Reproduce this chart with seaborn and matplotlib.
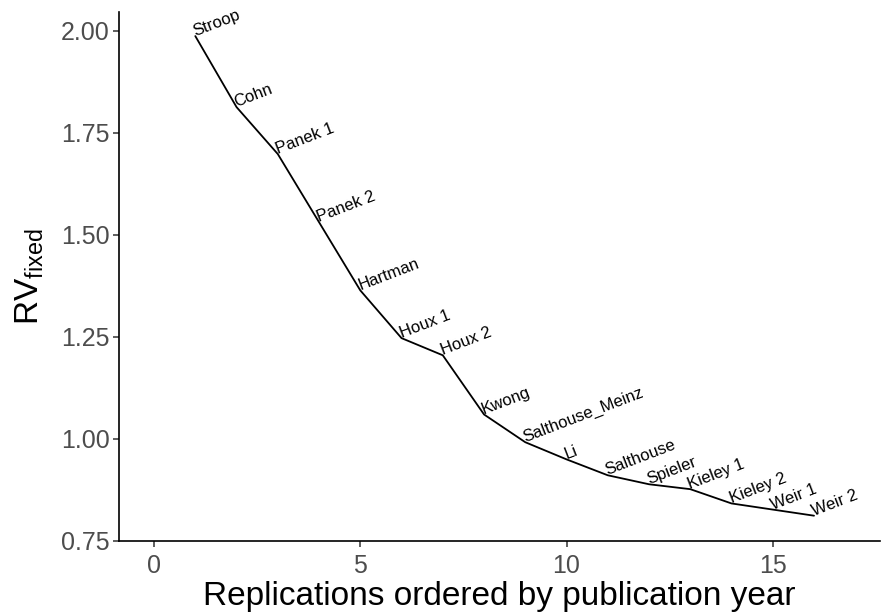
import matplotlib
matplotlib.use("Agg")
import matplotlib.pyplot as plt
import seaborn as sns
import pandas as pd

studies = ["Stroop", "Cohn", "Panek 1", "Panek 2", "Hartman", "Houx 1", "Houx 2",
           "Kwong", "Salthouse_Meinz", "Li", "Salthouse", "Spieler", "Kieley 1",
           "Kieley 2", "Weir 1", "Weir 2"]
order = list(range(1, 17))
rv_fixed = [1.987, 1.813, 1.698, 1.531, 1.364, 1.247, 1.205, 1.060,
            0.992, 0.950, 0.911, 0.889, 0.877, 0.842, 0.827, 0.812]
xticks = [0, 5, 10, 15]
yticks = [0.75, 1.00, 1.25, 1.50, 1.75, 2.00]

df = pd.DataFrame({"order": order, "rv": rv_fixed, "study": studies})

sns.set_theme(style="ticks")
plt.rcParams["font.family"] = ["Liberation Sans", "DejaVu Sans"]
plt.rcParams["mathtext.default"] = "regular"

fig = plt.figure(figsize=(8.83, 6.13), dpi=100)
ax = fig.add_axes([119 / 883, 72 / 613, (880 - 119) / 883, (541 - 12) / 613])

sns.lineplot(data=df, x="order", y="rv", ax=ax, color="black", linewidth=1.3)
for _, r in df.iterrows():
    ax.text(r["order"], r["rv"], r["study"], rotation=21, rotation_mode="anchor",
            ha="left", va="baseline", fontsize=12, color="black")

ax.set_xlim(-0.85, 17.6)
ax.set_ylim(0.75, 2.046)
ax.set_xticks(xticks)
ax.set_xticklabels([str(t) for t in xticks])
ax.set_yticks(yticks)
ax.set_yticklabels([f"{t:.2f}" for t in yticks])
ax.tick_params(axis="both", labelsize=18, colors="#333333", labelcolor="#4D4D4D",
               length=4, width=1.1)
ax.tick_params(axis="x", pad=5.5)
ax.tick_params(axis="y", pad=2.5)
for s in ["top", "right"]:
    ax.spines[s].set_visible(False)
for s in ["left", "bottom"]:
    ax.spines[s].set_linewidth(1.2)
    ax.spines[s].set_color("black")
ax.set_xlabel("Replications ordered by publication year", fontsize=24,
              color="black", labelpad=2)
ax.set_ylabel(r"RV$_{fixed}$", fontsize=24, color="black", labelpad=11)

fig.savefig("out.png", dpi=100)
